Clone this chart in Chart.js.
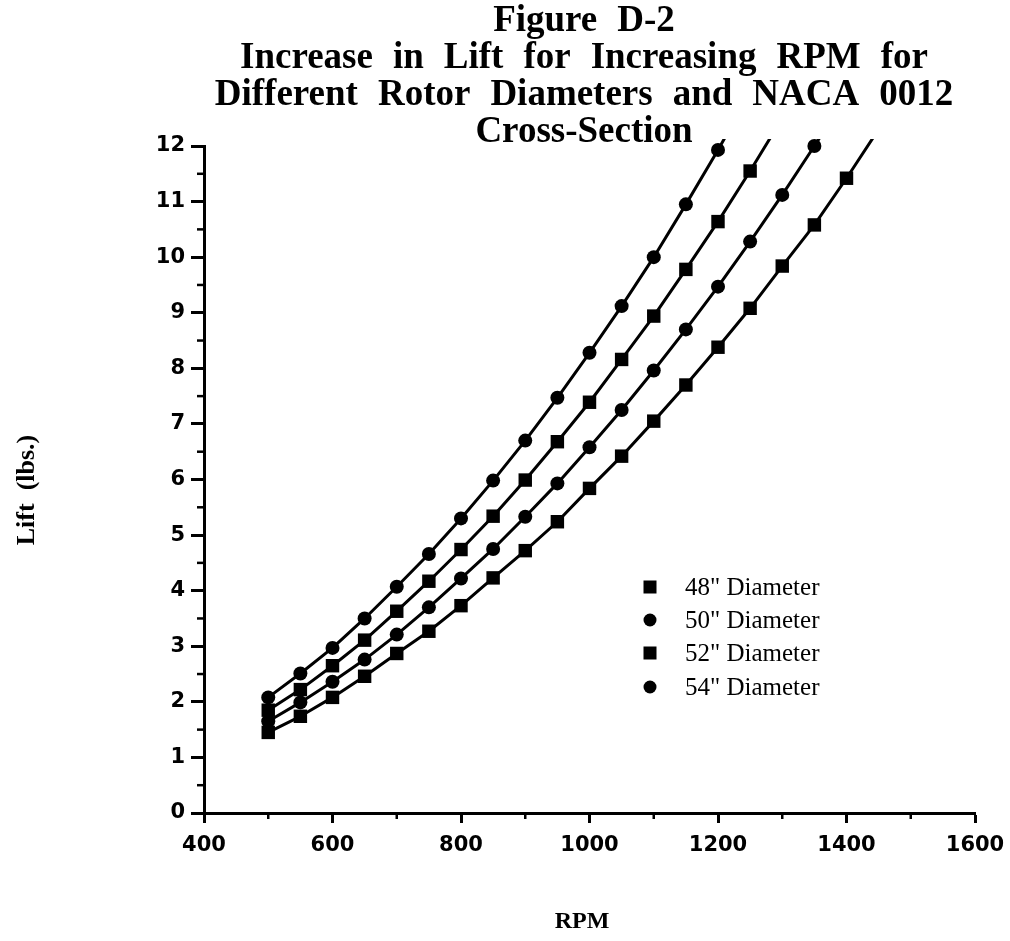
<!DOCTYPE html>
<html>
<head>
<meta charset="utf-8">
<title>Figure D-2</title>
<script src="https://cdn.jsdelivr.net/npm/chart.js@4.4.1/dist/chart.umd.min.js"></script>
<style>
  html, body { margin: 0; padding: 0; background: #fff; }
  #wrap { width: 1010px; height: 941px; }
</style>
</head>
<body>
<div id="wrap"><canvas id="lift" width="1010" height="941"></canvas></div>
<script>
// rotor speed, shared by every series (last entry lies past the 12 lb top edge)
const rpm = [500, 550, 600, 650, 700, 750, 800, 850, 900, 950, 1000,
             1050, 1100, 1150, 1200, 1250, 1300, 1350, 1400, 1450];

// lift in lbs. for each rotor diameter, one value per rpm entry
const lift48 = [1.45, 1.74, 2.08, 2.46, 2.87, 3.27, 3.73, 4.23, 4.72, 5.24,
                5.84, 6.42, 7.05, 7.70, 8.38, 9.08, 9.84, 10.58, 11.42, 12.3];
const lift50 = [1.65, 1.99, 2.36, 2.76, 3.21, 3.70, 4.22, 4.75, 5.33, 5.93,
                6.58, 7.25, 7.96, 8.70, 9.47, 10.28, 11.12, 12.0, 12.9];
const lift52 = [1.85, 2.22, 2.65, 3.11, 3.63, 4.17, 4.74, 5.34, 5.99, 6.68,
                7.39, 8.16, 8.94, 9.78, 10.64, 11.55, 12.5];
const lift54 = [2.08, 2.51, 2.97, 3.50, 4.07, 4.66, 5.30, 5.98, 6.70, 7.47,
                8.28, 9.12, 10.0, 10.95, 11.93, 12.95];

const seriesLabels = ['48" Diameter', '50" Diameter', '52" Diameter', '54" Diameter'];
const seriesMarkers = ['rect', 'circle', 'rect', 'circle'];

const rpmRange = [400, 1600];
const liftRange = [0, 12];

const titleLines = [
  'Figure D-2',
  'Increase in Lift for Increasing RPM for',
  'Different Rotor Diameters and NACA 0012',
  'Cross-Section'
];
const yTitle = 'Lift  (lbs.)';
const xTitle = 'RPM';

const tickFont = { family: 'DejaVu Sans', weight: 'bold', size: 21 };
const serif = '"Liberation Serif", "Times New Roman", serif';

function toPoints(values) {
  return values.map((y, i) => ({ x: rpm[i], y: y }));
}

const liftSeries = [lift48, lift50, lift52, lift54];

const datasets = liftSeries.map((values, i) => {
  const marker = seriesMarkers[i];
  return {
    label: seriesLabels[i],
    data: toPoints(values),
    borderColor: '#000',
    borderWidth: 3,
    borderJoinStyle: 'round',
    pointStyle: marker,
    // points past the top edge only carry the line, no marker
    pointRadius: (c) => (c.raw && c.raw.y > liftRange[1] + 0.05) ? 0 : (marker === 'rect' ? 9.5 : 7),
    pointBackgroundColor: '#000',
    pointBorderWidth: 0,
    pointHoverRadius: 0,
    tension: 0,
    clip: { left: 10, top: 7, right: 10, bottom: 10 }
  };
});

function line(ctx, x1, y1, x2, y2) {
  ctx.beginPath();
  ctx.moveTo(x1, y1);
  ctx.lineTo(x2, y2);
  ctx.stroke();
}

// words spread out the way the old typeset title has them
function spacedText(ctx, text, cx, baseline, gap) {
  const words = text.split(' ');
  const widths = words.map(w => ctx.measureText(w).width);
  const total = widths.reduce((a, b) => a + b, 0) + gap * (words.length - 1);
  let xPos = cx - total / 2;
  ctx.textAlign = 'left';
  words.forEach((w, i) => {
    ctx.fillText(w, xPos, baseline);
    xPos += widths[i] + gap;
  });
}

const figureText = {
  id: 'figureText',
  afterDraw(chart) {
    const { ctx, chartArea, scales } = chart;
    const xs = scales.x, ys = scales.y;
    ctx.save();
    ctx.fillStyle = '#000';
    ctx.strokeStyle = '#000';

    // minor ticks: half pounds and odd hundreds of rpm
    ctx.lineWidth = 2.5;
    for (let v = liftRange[0] + 0.5; v < liftRange[1]; v += 1) {
      const py = ys.getPixelForValue(v);
      line(ctx, chartArea.left - 7, py, chartArea.left, py);
    }
    for (let v = rpmRange[0] + 100; v < rpmRange[1]; v += 200) {
      const px = xs.getPixelForValue(v);
      line(ctx, px, chartArea.bottom, px, chartArea.bottom + 6);
    }

    // title block
    ctx.font = 'bold 37px ' + serif;
    ctx.textBaseline = 'alphabetic';
    const titleX = 584;
    titleLines.forEach((t, i) => {
      spacedText(ctx, t, titleX, 31 + i * 37, 20);
    });

    // axis titles
    ctx.font = 'bold 24px ' + serif;
    ctx.textAlign = 'center';
    ctx.textBaseline = 'middle';
    ctx.fillText(xTitle, 582, 922);
    ctx.font = 'bold 26px ' + serif;
    ctx.save();
    ctx.translate(27, 490);
    ctx.rotate(-Math.PI / 2);
    ctx.fillText(yTitle, 0, 0);
    ctx.restore();

    // legend
    const rowY = [587, 620, 653, 687];
    ctx.font = '25px ' + serif;
    ctx.textAlign = 'left';
    chart.data.datasets.forEach((ds, i) => {
      const my = rowY[i];
      if (ds.pointStyle === 'rect') {
        ctx.fillRect(650 - 6.5, my - 6.5, 13, 13);
      } else {
        ctx.beginPath();
        ctx.arc(650, my, 6.5, 0, Math.PI * 2);
        ctx.fill();
      }
      ctx.fillText(ds.label, 685, my + 1);
    });

    ctx.restore();
  }
};

new Chart(document.getElementById('lift'), {
  type: 'line',
  data: { datasets: datasets },
  options: {
    responsive: false,
    animation: false,
    events: [],
    layout: { padding: { left: 124, top: 146, right: 35, bottom: 68 } },
    plugins: {
      legend: { display: false },
      title: { display: false },
      tooltip: { enabled: false }
    },
    scales: {
      x: {
        type: 'linear',
        min: rpmRange[0],
        max: rpmRange[1],
        ticks: {
          stepSize: 200, color: '#000', font: tickFont, padding: 10,
          maxRotation: 0, autoSkip: false,
          callback: (v) => String(v)
        },
        grid: { drawOnChartArea: false, drawTicks: true, tickLength: 10, tickWidth: 3, tickColor: '#000' },
        border: { display: true, color: '#000', width: 3 },
        // end labels may hang past the axis; the outer padding already leaves room
        afterFit: (s) => { s.height = 60; s.paddingLeft = 0; s.paddingRight = 0; }
      },
      y: {
        type: 'linear',
        min: liftRange[0],
        max: liftRange[1],
        ticks: { stepSize: 1, color: '#000', font: tickFont, padding: 6, autoSkip: false },
        grid: { drawOnChartArea: false, drawTicks: true, tickLength: 13, tickWidth: 3, tickColor: '#000' },
        border: { display: true, color: '#000', width: 3 },
        afterFit: (s) => { s.width = 80; s.paddingTop = 0; s.paddingBottom = 0; }
      }
    }
  },
  plugins: [figureText]
});
</script>
</body>
</html>
